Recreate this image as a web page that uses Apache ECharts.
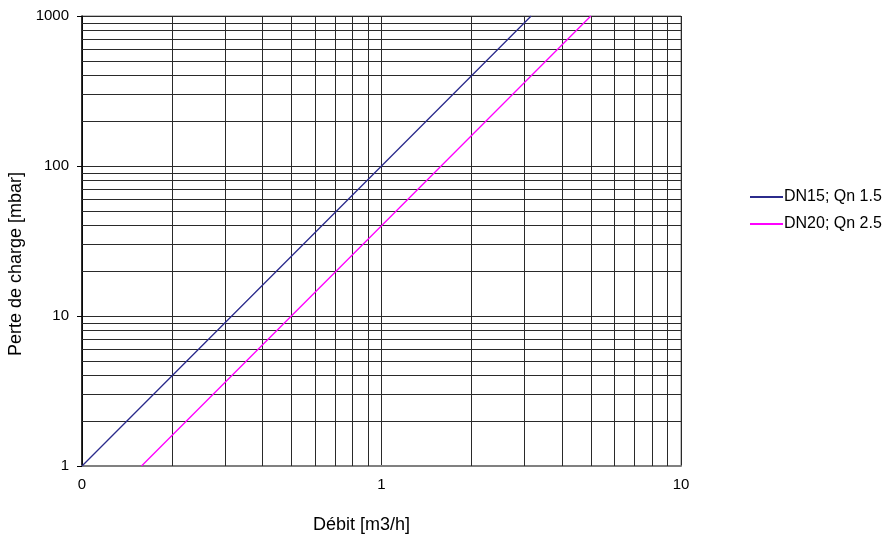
<!DOCTYPE html>
<html>
<head>
<meta charset="utf-8">
<script src="https://cdn.jsdelivr.net/npm/echarts@6/dist/echarts.min.js"></script>
<style>
  html, body { margin: 0; padding: 0; background: #fff; }
  #main { width: 890px; height: 535px; }
</style>
</head>
<body>
<div id="main"></div>
<script>
// series values [debit, perte]
var dn15 = [[0.1, 1], [1, 100], [3.16, 1000]];
var dn20 = [[0.158, 1], [0.5, 10], [1, 40], [5, 1000]];
var seriesNames = ['DN15; Qn 1.5', 'DN20; Qn 2.5'];
// minor grid values
var xMinor = [0.2, 0.3, 0.4, 0.5, 0.6, 0.7, 0.8, 0.9, 2, 3, 4, 5, 6, 7, 8, 9];
var yMinor = [2, 3, 4, 5, 6, 7, 8, 9, 20, 30, 40, 50, 60, 70, 80, 90, 200, 300, 400, 500, 600, 700, 800, 900];
// x tick labels (the original shows 0 for 0.1)
var xTickValues = [0.1, 1, 10];
var xTickLabels = ['0', '1', '10'];

var dom = document.getElementById('main');
var myChart = echarts.init(dom);

var gridLine = { color: '#2a2a2a', width: 1, type: 'solid' };
var fontFam = '"Liberation Sans", Arial, sans-serif';

var option = {
  backgroundColor: '#ffffff',
  animation: false,
  grid: {
    left: 82, top: 16, width: 599, height: 450,
    outerBoundsMode: 'none',
    show: true, borderColor: '#808080', borderWidth: 1
  },
  legend: {
    orient: 'vertical',
    left: 745, top: 184,
    itemWidth: 33, itemHeight: 2, itemGap: 11,
    icon: 'rect',
    textStyle: { fontFamily: fontFam, fontSize: 16, color: '#000', padding: [0, 0, 0, -4] },
    data: seriesNames
  },
  xAxis: {
    type: 'log', logBase: 10, min: 0.1, max: 10,
    name: 'Débit [m3/h]', nameLocation: 'middle', nameGap: 50,
    nameTextStyle: { fontFamily: fontFam, fontSize: 18, color: '#000', padding: [0, 40, 0, 0] },
    axisLine: { lineStyle: { color: '#808080', width: 2 } },
    axisTick: { show: false },
    axisLabel: {
      fontFamily: fontFam, fontSize: 15, color: '#000', margin: 11,
      formatter: function (v) {
        for (var i = 0; i < xTickValues.length; i++) {
          if (Math.abs(v - xTickValues[i]) < 1e-9) return xTickLabels[i];
        }
        return '';
      }
    },
    splitLine: { show: true, lineStyle: gridLine }
  },
  yAxis: {
    type: 'log', logBase: 10, min: 1, max: 1000,
    name: 'Perte de charge [mbar]', nameLocation: 'middle', nameGap: 56,
    nameTextStyle: { fontFamily: fontFam, fontSize: 18, color: '#000', padding: [0, 46, 0, 0] },
    axisLine: { show: true, lineStyle: { color: '#000', width: 1.5 } },
    axisTick: { show: true, length: 5, lineStyle: { color: '#000' } },
    axisLabel: {
      fontFamily: fontFam, fontSize: 15, color: '#000', margin: 13,
      formatter: function (v) { return String(Math.round(v)); }
    },
    splitLine: { show: true, lineStyle: gridLine }
  },
  series: [
    {
      name: seriesNames[0], type: 'line', data: dn15, showSymbol: false,
      lineStyle: { color: '#2b2b8c', width: 1.3 }, itemStyle: { color: '#2b2b8c' },
      z: 5,
      markLine: {
        silent: true, symbol: 'none', animation: false,
        label: { show: false },
        lineStyle: gridLine,
        data: xMinor.map(function (v) { return { xAxis: v }; })
          .concat(yMinor.map(function (v) { return { yAxis: v }; }))
      }
    },
    {
      name: seriesNames[1], type: 'line', data: dn20, showSymbol: false,
      lineStyle: { color: '#ff00ff', width: 1.3 }, itemStyle: { color: '#ff00ff' },
      z: 5
    }
  ]
};

window.onresize = function () {
  myChart.resize();
};

if (option && typeof option === 'object') {
  myChart.setOption(option);
}
</script>
</body>
</html>
